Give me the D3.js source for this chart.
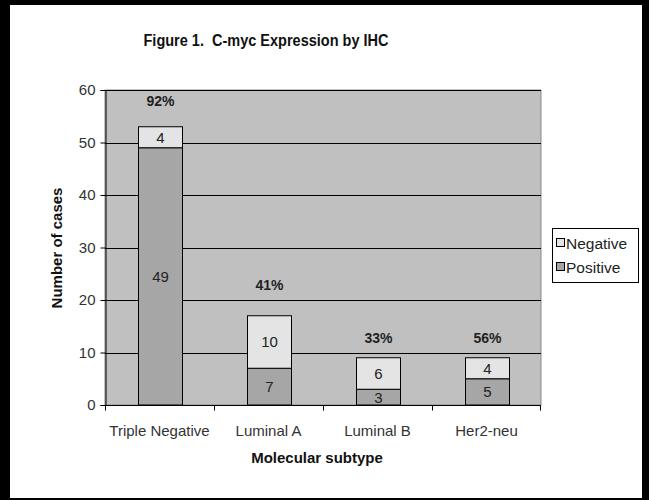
<!DOCTYPE html>
<html><head><meta charset="utf-8">
<script src="https://cdn.jsdelivr.net/npm/d3@7"></script>
<style>body{margin:0;background:#fff}svg{display:block}text{font-family:Arial,"Liberation Sans",sans-serif}</style>
</head><body><svg id="c" width="649" height="500"></svg>
<script>
const categories = ["Triple Negative", "Luminal A", "Luminal B", "Her2-neu"];
const positive = [49, 7, 3, 5];
const negative = [4, 10, 6, 4];
const pctLabels = ["92%", "41%", "33%", "56%"];
const pctAnchor = [57.9, 22.9, 12.8, 12.8];
const yTicks = [0, 10, 20, 30, 40, 50, 60];
const seriesNames = ["Negative", "Positive"];
const colors = {Negative: "#e4e4e4", Positive: "#a6a6a6"};

const svg = d3.select("#c");
// frame
svg.append("rect").attr("x",0).attr("y",0).attr("width",649).attr("height",500).attr("fill","#000");
svg.append("rect").attr("x",10).attr("y",5).attr("width",632).attr("height",493).attr("fill","#fff");

const L = 105, R = 541, T = 90, B = 405;
const x = d3.scaleBand().domain(categories).range([L, R]).paddingInner(0.6).paddingOuter(0.3);
const xb = d3.scaleBand().domain(categories).range([L, R]);
const y = d3.scaleLinear().domain([0, 60]).range([B, T]);

svg.append("rect").attr("x",L).attr("y",T).attr("width",R-L).attr("height",B-T)
  .attr("fill","#c0c0c0").attr("stroke","#8a8a8a");

svg.append("g").selectAll("line").data(yTicks.filter(d=>d>0)).join("line")
  .attr("x1",L).attr("x2",R).attr("y1",d=>Math.round(y(d))+0.5).attr("y2",d=>Math.round(y(d))+0.5)
  .attr("stroke","#000").attr("stroke-width",1);

const stacked = categories.map((c,i)=>({c, pos: positive[i], neg: negative[i]}));
const g = svg.append("g");
stacked.forEach((d,i)=>{
  const bx = Math.round(x(d.c))+0.5, bw = Math.round(x.bandwidth());
  g.append("rect").attr("x",bx).attr("y",y(d.pos)).attr("width",bw).attr("height",y(0)-y(d.pos))
    .attr("fill",colors.Positive).attr("stroke","#000");
  g.append("rect").attr("x",bx).attr("y",y(d.pos+d.neg)).attr("width",bw).attr("height",y(d.pos)-y(d.pos+d.neg))
    .attr("fill",colors.Negative).attr("stroke","#000");
  g.append("text").attr("x",bx+bw/2).attr("y",(y(0)+y(d.pos))/2).attr("dy","0.36em")
    .attr("text-anchor","middle").attr("font-size",15).attr("fill","#222").text(d.pos);
  g.append("text").attr("x",bx+bw/2).attr("y",(y(d.pos)+y(d.pos+d.neg))/2).attr("dy","0.36em")
    .attr("text-anchor","middle").attr("font-size",15).attr("fill","#222").text(d.neg);
  g.append("text").attr("x",bx+bw/2).attr("y",y(pctAnchor[i])).attr("dy","0.36em")
    .attr("text-anchor","middle").attr("font-size",14).attr("font-weight","bold").attr("fill","#222").text(pctLabels[i]);
});

// y axis
const ya = svg.append("g").attr("transform",`translate(${L+0.5},0)`)
  .call(d3.axisLeft(y).tickValues(yTicks).tickSize(5).tickPadding(5));
ya.select(".domain").attr("stroke","#000");
ya.selectAll(".tick line").attr("stroke","#000");
ya.selectAll("text").attr("font-size",15).attr("fill","#333").attr("font-family","Arial, 'Liberation Sans', sans-serif");

// x axis
const xa = svg.append("g").attr("transform",`translate(0,${B+0.5})`);
xa.append("line").attr("x1",L).attr("x2",R).attr("stroke","#000");
xa.selectAll("line.t").data(categories.concat(["end"])).join("line").attr("class","t")
  .attr("x1",(d,i)=>i<4?Math.round(xb(d))+0.5:R-0.5).attr("x2",(d,i)=>i<4?Math.round(xb(d))+0.5:R-0.5)
  .attr("y1",0).attr("y2",5).attr("stroke","#000");
xa.selectAll("text").data(categories).join("text")
  .attr("x",d=>xb(d)+xb.bandwidth()/2).attr("y",30).attr("text-anchor","middle")
  .attr("font-size",15).attr("fill","#333").text(d=>d);

// titles
svg.append("text").attr("x",266).attr("y",46).attr("text-anchor","middle").attr("font-size",16)
  .attr("font-weight","bold").attr("fill","#111").attr("textLength",245).attr("lengthAdjust","spacingAndGlyphs")
  .style("white-space","pre").text("Figure 1.  C-myc Expression by IHC");
svg.append("text").attr("x",317).attr("y",463).attr("text-anchor","middle").attr("font-size",15)
  .attr("font-weight","bold").attr("fill","#111").text("Molecular subtype");
svg.append("text").attr("transform","translate(62,248) rotate(-90)").attr("text-anchor","middle").attr("font-size",15)
  .attr("font-weight","bold").attr("fill","#111").text("Number of cases");

// legend
const lg = svg.append("g");
lg.append("rect").attr("x",552.5).attr("y",228.5).attr("width",86).attr("height",54).attr("fill","#fff").attr("stroke","#000");
seriesNames.forEach((s,i)=>{
  const yy = 243 + i*24;
  lg.append("rect").attr("x",556.5).attr("y",yy-4.5).attr("width",8).attr("height",8).attr("fill",colors[s]).attr("stroke","#000");
  lg.append("text").attr("x",566).attr("y",yy).attr("dy","0.36em").attr("font-size",15.5).attr("fill","#222").text(s);
});
</script></body></html>
